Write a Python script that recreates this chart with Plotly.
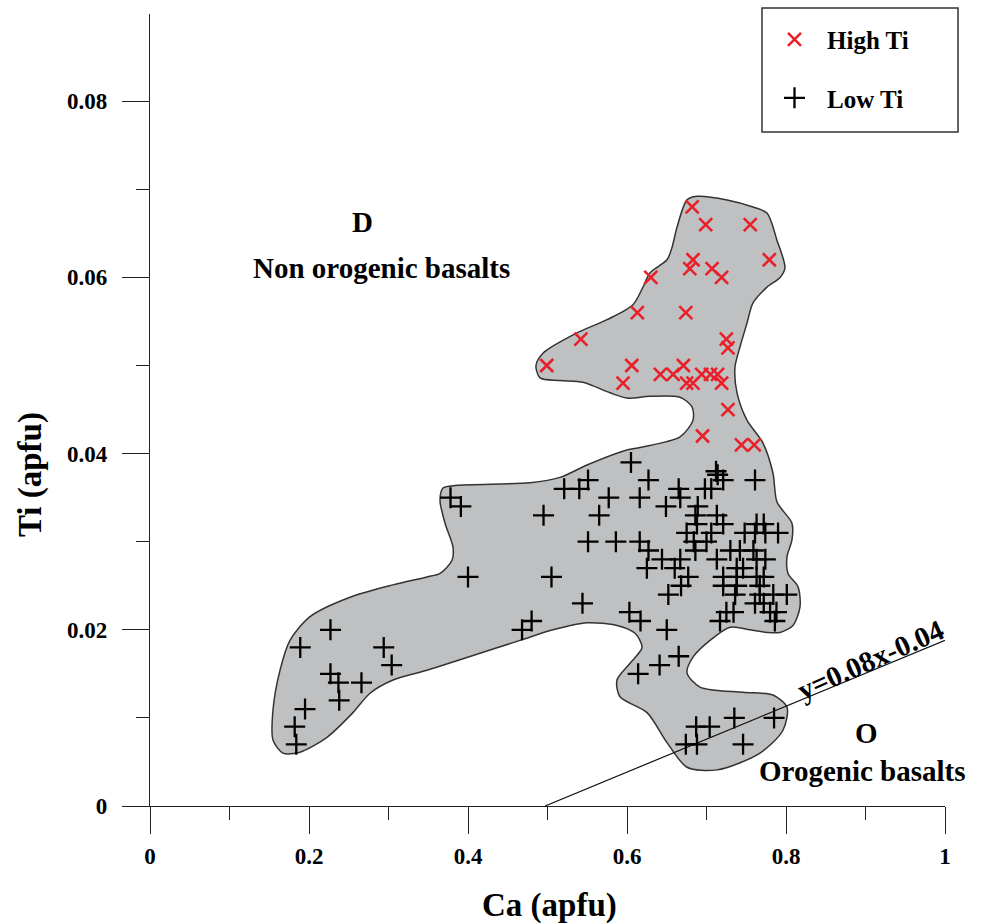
import plotly.graph_objects as go

# ---------------- data ----------------
high_ti_ca = [0.682, 0.699, 0.755, 0.779, 0.683, 0.679, 0.707, 0.719, 0.630, 0.613,
              0.674, 0.542, 0.725, 0.727, 0.499, 0.606, 0.595, 0.642, 0.658, 0.671,
              0.675, 0.683, 0.694, 0.705, 0.714, 0.719, 0.727, 0.695, 0.744, 0.760]
high_ti_ti = [0.068, 0.066, 0.066, 0.062, 0.062, 0.061, 0.061, 0.060, 0.060, 0.056,
              0.056, 0.053, 0.053, 0.052, 0.050, 0.050, 0.048, 0.049, 0.049, 0.050,
              0.048, 0.048, 0.049, 0.049, 0.049, 0.048, 0.045, 0.042, 0.041, 0.041]

low_ti_ca = [0.182, 0.184, 0.189, 0.195, 0.227, 0.227, 0.237, 0.238, 0.266, 0.294,
             0.304, 0.378, 0.391, 0.400, 0.468, 0.480, 0.495, 0.505, 0.521, 0.540,
             0.544, 0.551, 0.551, 0.565, 0.577, 0.586, 0.603, 0.605, 0.614, 0.617,
             0.616, 0.616, 0.625, 0.627, 0.627, 0.641, 0.644, 0.649, 0.650, 0.652,
             0.660, 0.665, 0.665, 0.667, 0.667, 0.668, 0.675, 0.677, 0.674, 0.686,
             0.688, 0.689, 0.684, 0.686, 0.687, 0.688, 0.698, 0.700, 0.704, 0.706,
             0.706, 0.712, 0.714, 0.713, 0.713, 0.717, 0.721, 0.721, 0.721, 0.721,
             0.725, 0.730, 0.734, 0.735, 0.736, 0.738, 0.738, 0.738, 0.742, 0.746,
             0.746, 0.748, 0.759, 0.761, 0.761, 0.761, 0.763, 0.763, 0.763, 0.767,
             0.767, 0.772, 0.774, 0.772, 0.772, 0.774, 0.780, 0.784, 0.785, 0.786,
             0.788, 0.790, 0.801]
low_ti_ti = [0.009, 0.007, 0.018, 0.011, 0.020, 0.015, 0.014, 0.012, 0.014, 0.018,
             0.016, 0.035, 0.034, 0.026, 0.020, 0.021, 0.033, 0.026, 0.036, 0.036,
             0.023, 0.037, 0.030, 0.033, 0.035, 0.030, 0.022, 0.039, 0.015, 0.021,
             0.035, 0.030, 0.027, 0.029, 0.037, 0.016, 0.028, 0.034, 0.020, 0.024,
             0.027, 0.036, 0.017, 0.035, 0.028, 0.025, 0.031, 0.026, 0.007, 0.033,
             0.032, 0.034, 0.030, 0.029, 0.009, 0.007, 0.036, 0.030, 0.009, 0.036,
             0.031, 0.038, 0.0376, 0.033, 0.028, 0.021, 0.037, 0.032, 0.026, 0.025,
             0.022, 0.029, 0.022, 0.010, 0.024, 0.027, 0.026, 0.025, 0.029, 0.027,
             0.007, 0.031, 0.029, 0.037, 0.031, 0.023, 0.032, 0.028, 0.026, 0.025,
             0.024, 0.032, 0.031, 0.026, 0.023, 0.028, 0.022, 0.024, 0.010, 0.021,
             0.022, 0.031, 0.024]

# outline of the shaded field (Ca, Ti)
field_ca = [0.4855, 0.4943, 0.5371, 0.5748, 0.6075, 0.6201, 0.6289, 0.6503, 0.6566, 0.6629,
            0.6755, 0.6881, 0.7258, 0.7585, 0.7761, 0.7887, 0.7987, 0.7925, 0.7761, 0.7585,
            0.7509, 0.7421, 0.7358, 0.7384, 0.7509, 0.7711, 0.7836, 0.7887, 0.8075, 0.8075,
            0.8013, 0.8025, 0.8151, 0.8176, 0.8088, 0.7925, 0.7761, 0.7547, 0.7296, 0.7044,
            0.6830, 0.6755, 0.6918, 0.7459, 0.7836, 0.8013, 0.7962, 0.7673, 0.7132, 0.6755,
            0.6503, 0.6252, 0.5912, 0.5874, 0.6038, 0.6189, 0.6101, 0.5874, 0.5497, 0.5069,
            0.4654, 0.3899, 0.3484, 0.3057, 0.2767, 0.2553, 0.2226, 0.1887, 0.1673, 0.1547,
            0.1547, 0.1635, 0.1761, 0.2013, 0.2516, 0.3057, 0.3484, 0.3648, 0.3799, 0.3811,
            0.3711, 0.3648, 0.3686, 0.3862, 0.4780, 0.5157, 0.5497, 0.6000, 0.6164, 0.6667,
            0.6830, 0.6818, 0.6667, 0.6289, 0.6000, 0.5786, 0.5447, 0.5157, 0.4906, 0.4855]
field_ti = [0.0500, 0.0514, 0.0537, 0.0552, 0.0569, 0.0589, 0.0605, 0.0620, 0.0634, 0.0657,
            0.0688, 0.0692, 0.0688, 0.0680, 0.0673, 0.0642, 0.0611, 0.0600, 0.0589, 0.0571,
            0.0548, 0.0521, 0.0498, 0.0469, 0.0438, 0.0412, 0.0378, 0.0345, 0.0321, 0.0302,
            0.0283, 0.0264, 0.0249, 0.0226, 0.0205, 0.0197, 0.0197, 0.0200, 0.0203, 0.0188,
            0.0169, 0.0151, 0.0135, 0.0129, 0.0126, 0.0112, 0.0086, 0.0060, 0.0041, 0.0044,
            0.0072, 0.0106, 0.0124, 0.0143, 0.0162, 0.0180, 0.0196, 0.0205, 0.0208, 0.0200,
            0.0188, 0.0166, 0.0154, 0.0143, 0.0128, 0.0106, 0.0078, 0.0061, 0.0060, 0.0075,
            0.0109, 0.0154, 0.0188, 0.0215, 0.0237, 0.0251, 0.0260, 0.0264, 0.0279, 0.0294,
            0.0321, 0.0347, 0.0361, 0.0364, 0.0367, 0.0373, 0.0387, 0.0404, 0.0407, 0.0419,
            0.0438, 0.0453, 0.0464, 0.0465, 0.0463, 0.0469, 0.0481, 0.0483, 0.0486, 0.0500]

# discrimination line as drawn
line_ca = [0.497, 1.0]
line_ti = [0.0, 0.0188]

serif = "Liberation Serif"
axis_col = "#222222"

fig = go.Figure()

fig.add_trace(go.Scatter(
    x=field_ca, y=field_ti, mode="lines", fill="toself",
    fillcolor="#bfc0c2", line=dict(color="#333333", width=1.5, shape="spline", smoothing=0.8),
    showlegend=False, hoverinfo="skip"))

fig.add_trace(go.Scatter(
    x=line_ca, y=line_ti, mode="lines",
    line=dict(color="#111111", width=1.2), showlegend=False, hoverinfo="skip"))

fig.add_trace(go.Scatter(
    x=low_ti_ca, y=low_ti_ti, mode="markers", name="Low Ti",
    legendgroup="low", legendrank=2,
    marker=dict(symbol="cross-thin", size=15, color="black",
                line=dict(color="black", width=2.3))))

fig.add_trace(go.Scatter(
    x=high_ti_ca, y=high_ti_ti, mode="markers", name="High Ti",
    legendgroup="high", legendrank=1,
    marker=dict(symbol="x-thin", size=13, color="#e8202a",
                line=dict(color="#e8202a", width=2.6))))

ann_font = dict(family=serif, size=29, color="black", weight="bold")
fig.add_annotation(x=0.2675, y=0.0663, text="D", showarrow=False, font=ann_font)
fig.add_annotation(x=0.2918, y=0.0611, text="Non orogenic basalts", showarrow=False, font=ann_font)
fig.add_annotation(x=0.9015, y=0.0083, text="O", showarrow=False, font=ann_font)
fig.add_annotation(x=0.8956, y=0.0040, text="Orogenic basalts", showarrow=False, font=ann_font)
fig.add_annotation(x=0.9057, y=0.0166, text="y=0.08x-0.04", showarrow=False,
                   textangle=-24, font=ann_font)

title_font = dict(family=serif, size=33, color="black", weight="bold")
fig.add_annotation(xref="paper", yref="paper", x=0.503, y=-0.125, text="Ca (apfu)",
                   xanchor="center", yanchor="middle", showarrow=False, font=title_font)
fig.add_annotation(xref="paper", yref="paper", x=-0.151, y=0.419, text="Ti (apfu)",
                   xanchor="center", yanchor="middle", showarrow=False, textangle=-90,
                   font=title_font)

# legend frame
fig.add_shape(type="rect", xref="paper", yref="paper",
              x0=0.7698, x1=1.0164, y0=0.851, y1=1.0076,
              line=dict(color="#333333", width=1.5), fillcolor="white", layer="above")

tick_font = dict(family=serif, size=23, color="black", weight="bold")

fig.update_layout(
    width=984, height=924,
    margin=dict(l=150, r=39, t=14, b=118, pad=0),
    paper_bgcolor="white", plot_bgcolor="white",
    font=dict(family=serif, color="black"),
    legend=dict(
        x=0.7698, y=0.9967, xanchor="left", yanchor="top",
        borderwidth=0, bgcolor="rgba(0,0,0,0)",
        font=dict(family=serif, size=25, color="black", weight="bold"),
        tracegroupgap=23, itemwidth=55, itemsizing="trace"),
    xaxis=dict(
        range=[0, 1], dtick=0.2, tick0=0, ticks="outside", ticklen=27, tickwidth=1.3,
        tickcolor=axis_col, showline=True, linecolor=axis_col, linewidth=1.3,
        showgrid=False, zeroline=False, tickfont=tick_font, ticklabelstandoff=2,
        automargin=False,
        minor=dict(dtick=0.1, tick0=0, ticks="outside", ticklen=13, tickwidth=1.3,
                   tickcolor=axis_col, showgrid=False)),
    yaxis=dict(
        range=[0, 0.0899], dtick=0.02, tick0=0, ticks="outside", ticklen=27, tickwidth=1.3,
        tickcolor=axis_col, showline=True, linecolor=axis_col, linewidth=1.3,
        showgrid=False, zeroline=False, tickfont=tick_font, ticklabelstandoff=10,
        automargin=False,
        minor=dict(dtick=0.01, tick0=0, ticks="outside", ticklen=13, tickwidth=1.3,
                   tickcolor=axis_col, showgrid=False)),
)

fig.write_html("out.html")
